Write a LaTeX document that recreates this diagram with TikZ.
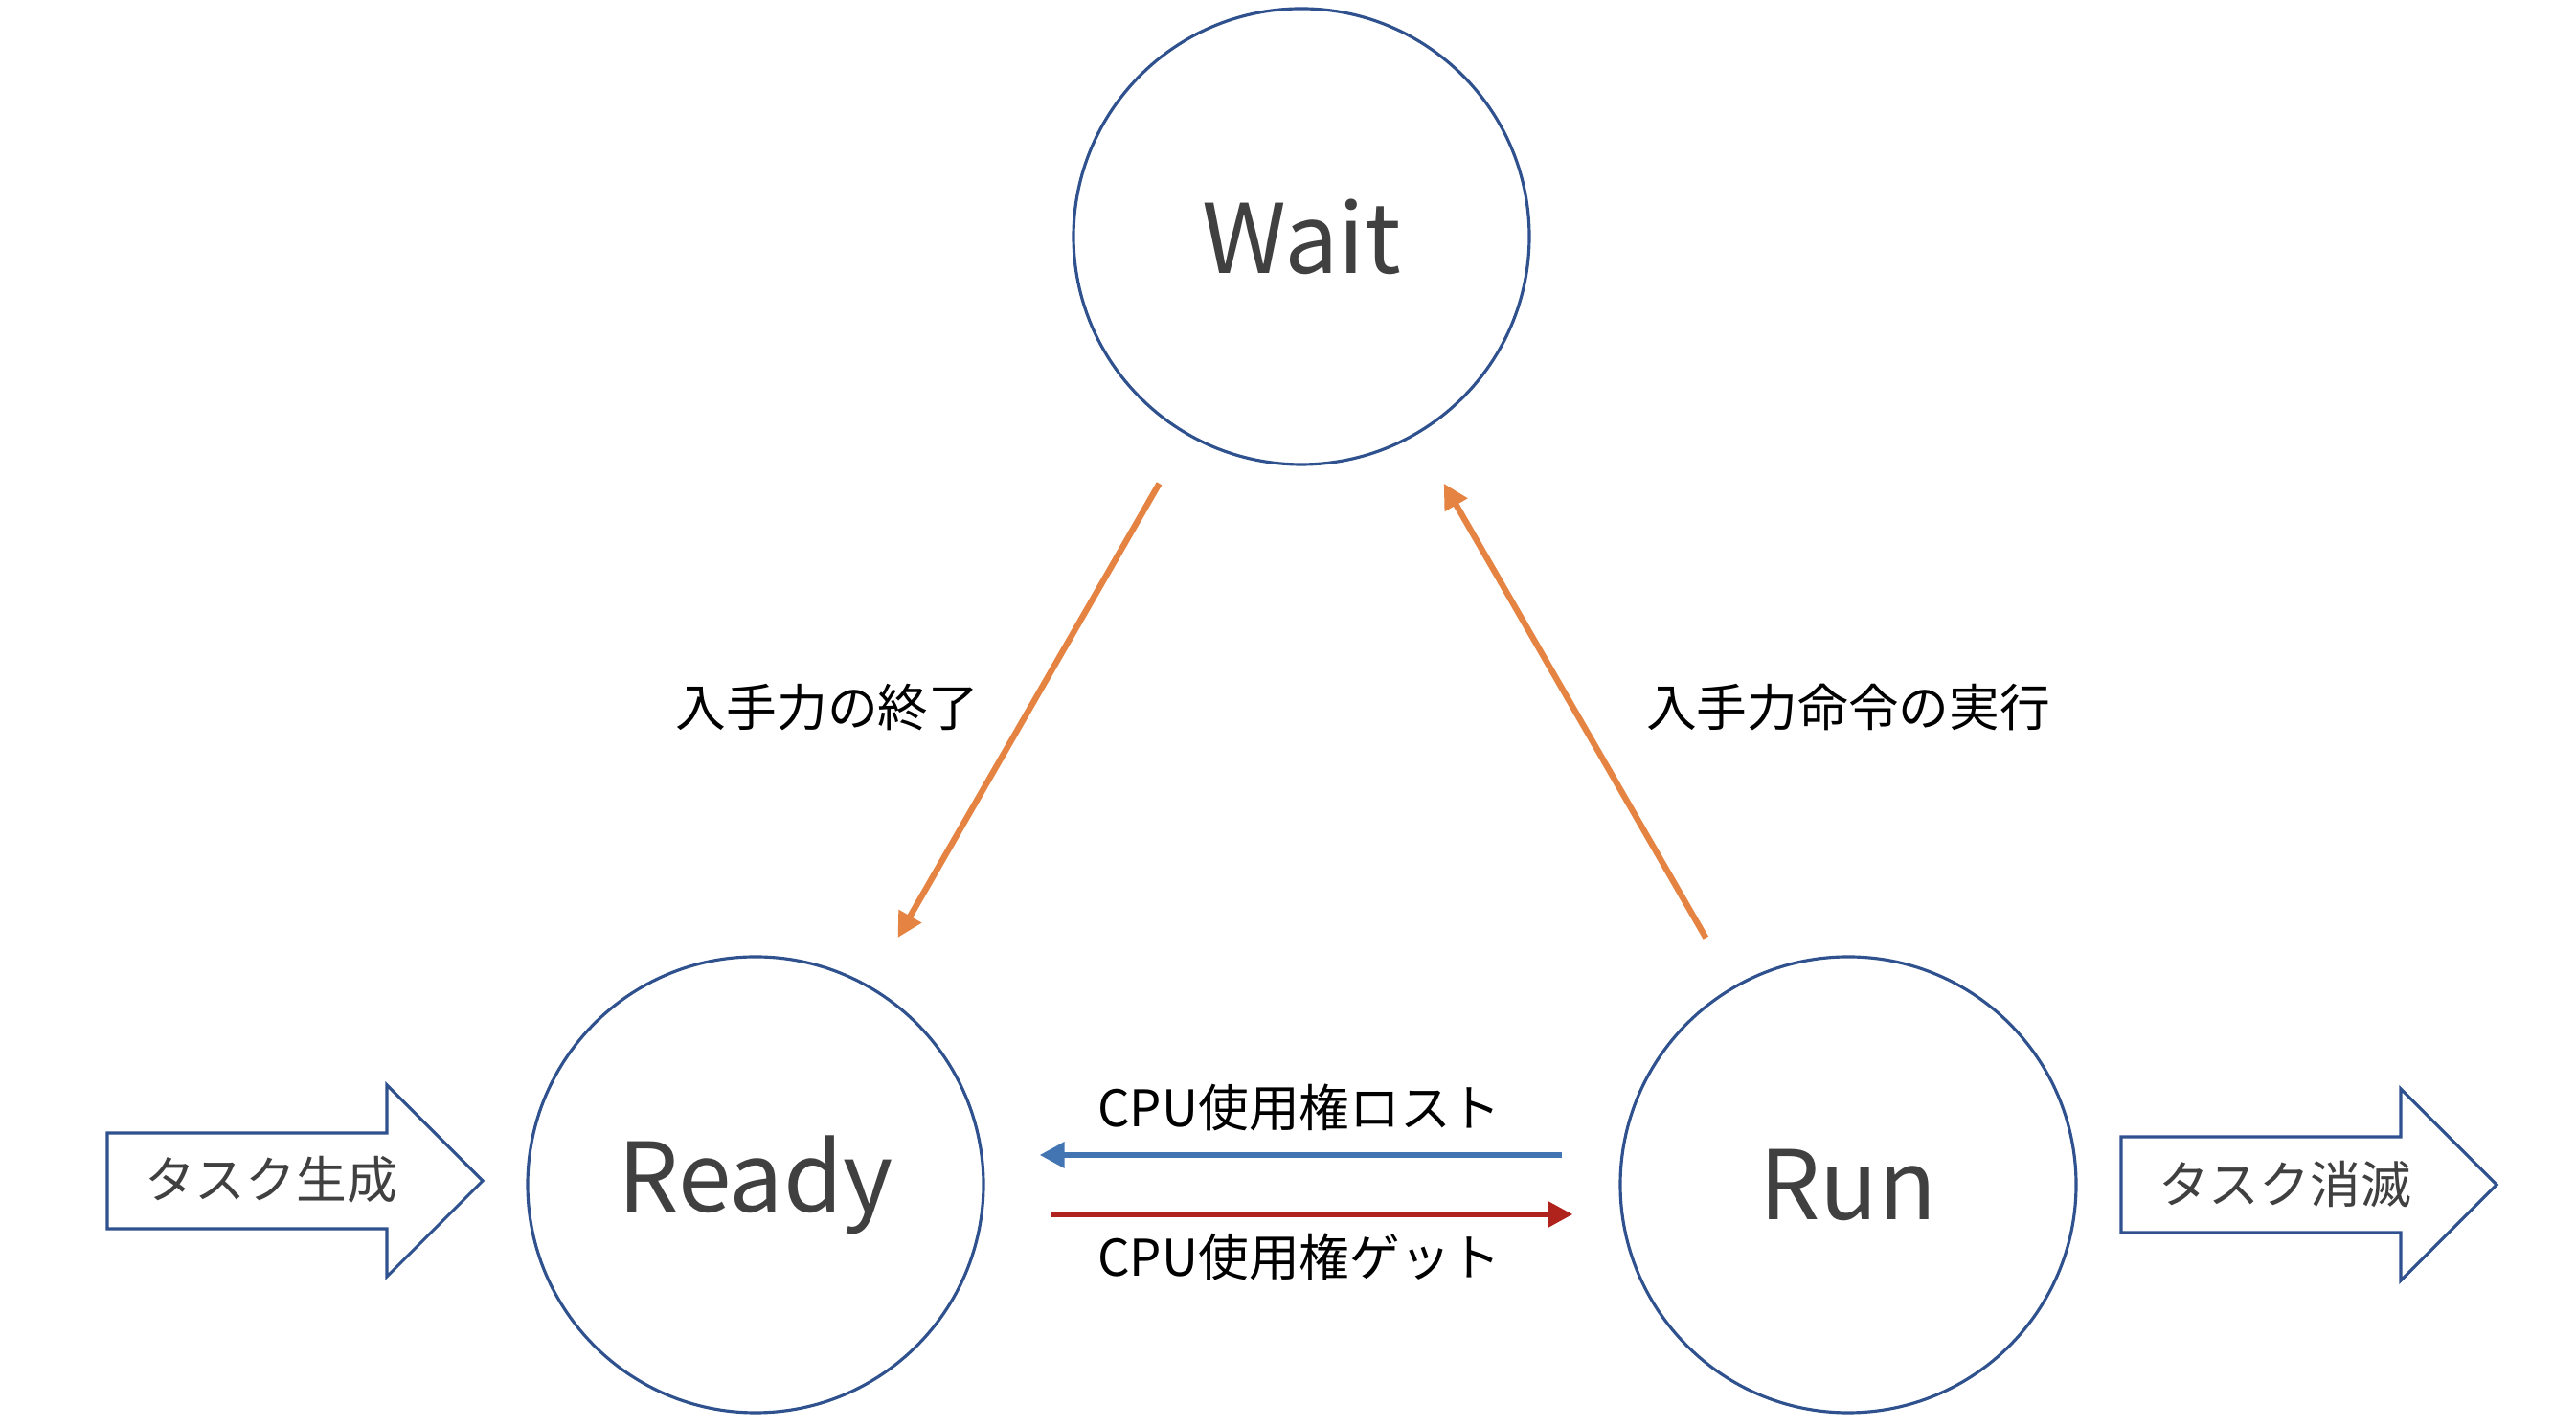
\documentclass[tikz,border=0pt]{standalone}
\usepackage{fontspec}
\setmainfont{Noto Sans CJK JP}
\usetikzlibrary{arrows.meta,positioning}

\definecolor{stateblue}{RGB}{47,82,143}
\definecolor{textgray}{RGB}{64,64,64}
\definecolor{ioorange}{RGB}{229,131,67}
\definecolor{lostblue}{RGB}{66,117,178}
\definecolor{getred}{RGB}{176,35,28}

\begin{document}
\begin{tikzpicture}[
  state/.style={circle, draw=stateblue, line width=0.9pt, minimum size=4.76cm,
    inner sep=0pt, text=textgray, font=\fontsize{28.5}{28.5}\selectfont},
  trans/.style={line width=1.8pt, -{Triangle[length=0.26cm,width=0.26cm]}},
  lbl/.style={font=\fontsize{15}{15}\selectfont},
  blockarrow/.style={draw=stateblue, line width=0.9pt, fill=white},
]
\useasboundingbox (0,0) rectangle (26.9,14.9);

% States
\node[state] (wait) at (13.59,12.43) {Wait};
\node[state] (ready) at (7.89,2.53) {Ready};
\node[state] (run) at (19.30,2.53) {Run};

% I/O transitions (orange)
\draw[trans, ioorange, shorten <=0.58cm, shorten >=0.58cm] (wait) -- (ready);
\draw[trans, ioorange, shorten <=0.58cm, shorten >=0.58cm] (run) -- (wait);
\node[lbl] (ioend) at (8.64,7.51) {入手力の終了};
\node[lbl] (iocmd) at (19.30,7.51) {入手力命令の実行};

% CPU transitions
\draw[trans, lostblue, shorten <=0.59cm, shorten >=0.57cm]
    ([yshift=0.31cm]run.west) -- ([yshift=0.31cm]ready.east);
\draw[trans, getred, shorten <=0.68cm, shorten >=0.48cm]
    ([yshift=-0.31cm]ready.east) -- ([yshift=-0.31cm]run.west);
\node[lbl] (lost) at (13.57,3.34) {CPU使用権ロスト};
\node[lbl] (get) at (13.57,1.78) {CPU使用権ゲット};

% Task creation / deletion (block arrows)
\foreach \x/\y in {1.12/2.57, 22.15/2.53} {
    \draw[blockarrow] (\x,\y) ++(0,-0.5) -- ++(2.92,0) -- ++(0,-0.5) -- ++(1,1)
        -- ++(-1,1) -- ++(0,-0.5) -- ++(-2.92,0) -- cycle;
}
\node[lbl, text=textgray] (create) at (2.83,2.58) {タスク生成};
\node[lbl, text=textgray] (delete) at (23.86,2.53) {タスク消滅};

\end{tikzpicture}
\end{document}
